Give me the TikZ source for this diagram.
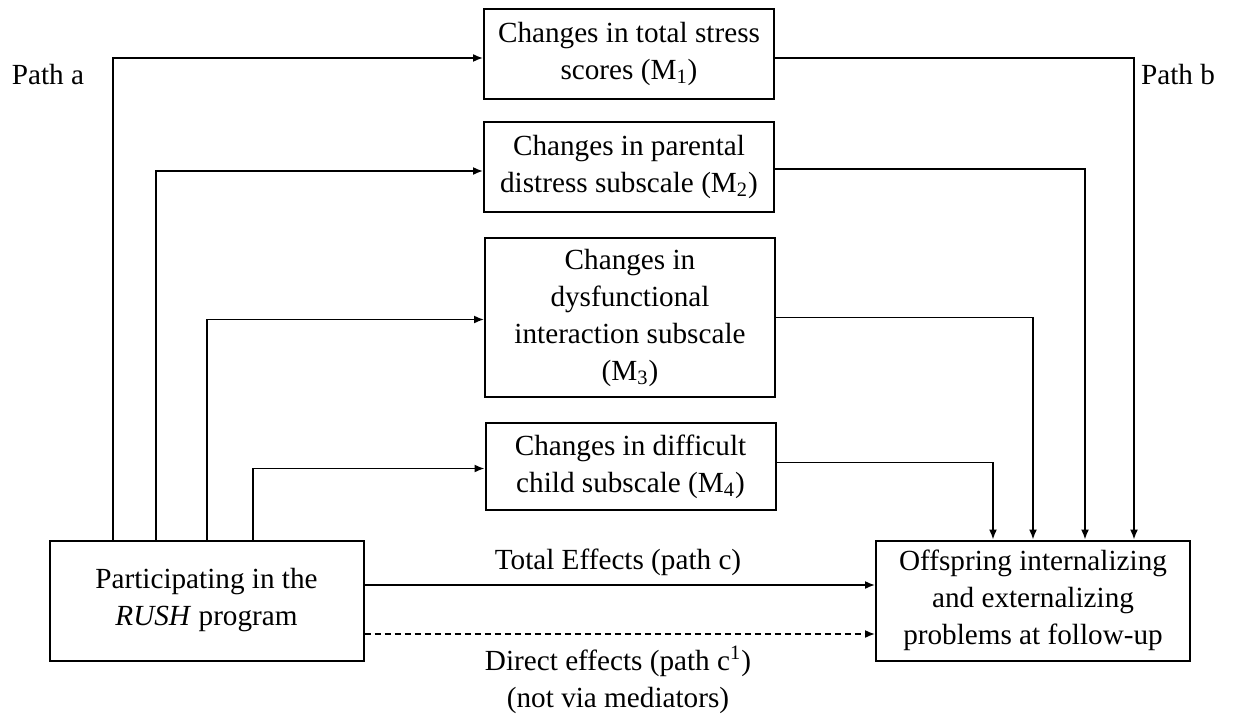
\documentclass[tikz,border=0pt]{standalone}
\usepackage{fontspec}
\setmainfont{Liberation Serif}
\usetikzlibrary{arrows.meta}
\begin{document}
\begin{tikzpicture}[x=0.5pt,y=-0.5pt,
		font=\fontsize{14.6}{18.5}\selectfont,
		box/.style={draw,line width=1pt,align=center,inner sep=0pt,minimum width=145pt},
		arr/.style={-{Latex[length=5pt,width=4pt]},line width=0.8pt}]
			\useasboundingbox (0,0) rectangle (1236,717);
			% mediators
			\node[box,minimum height=45pt] (m1) at (629,54) {Changes in total stress\\scores (M\textsubscript{1})};
			\node[box,minimum height=45pt] (m2) at (629,167) {Changes in parental\\distress subscale (M\textsubscript{2})};
			\node[box,minimum height=79.5pt] (m3) at (630,317.5) {Changes in\\dysfunctional\\interaction subscale\\(M\textsubscript{3})};
			\node[box,minimum height=43.5pt] (m4) at (630.5,466.5) {Changes in difficult\\child subscale (M\textsubscript{4})};

			\node[box,minimum width=157pt,minimum height=60pt] (part) at (206.5,600.5) {Participating in the\\\textit{RUSH} program};
			\node[box,minimum width=157pt,minimum height=60pt] (out) at (1033,600.5) {Offspring internalizing\\and externalizing\\problems at follow-up};

			\node (pa) at (48,75) {Path a};
			\node (pb) at (1178,75) {Path b};

			% tracks
			\coordinate (a1) at (113,0);
			\coordinate (a2) at (156,0);
			\coordinate (a3) at (207,0);
			\coordinate (a4) at (253,0);
			\coordinate (b1) at (1134,0);
			\coordinate (b2) at (1085,0);
			\coordinate (b3) at (1033,0);
			\coordinate (b4) at (993,0);

			\draw[arr] (part.north -| a1) |- ([yshift=-2pt]m1.west);
			\draw[arr] (part.north -| a2) |- ([yshift=-2pt]m2.west);
			\draw[arr] (part.north -| a3) |- ([yshift=-1pt]m3.west);
			\draw[arr] (part.north -| a4) |- ([yshift=-1pt]m4.west);

			\draw[arr] ([yshift=-2pt]m1.east) -| (out.north -| b1);
			\draw[arr] ([yshift=-1pt]m2.east) -| (out.north -| b2);
			\draw[arr] (m3.east) -| (out.north -| b3);
			\draw[arr] ([yshift=2pt]m4.east) -| (out.north -| b4);

			% path c and c'
			\coordinate (tc) at (0,585);
			\coordinate (dc) at (0,634);
			\draw[arr] (part.east |- tc) -- (out.west |- tc);
			\draw[arr,dash pattern=on 3pt off 2pt] (part.east |- dc) -- (out.west |- dc);

			\node (tlab) at (618,562) {Total Effects (path c)};
			\node[align=center] (dlab) at (618,680) {Direct effects (path c\textsuperscript{1})\\(not via mediators)};
		\end{tikzpicture}
\end{document}
